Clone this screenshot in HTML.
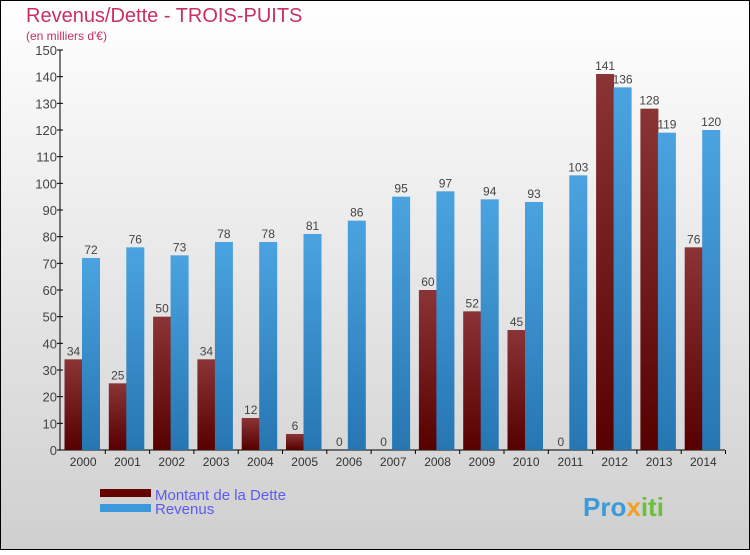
<!DOCTYPE html>
<html><head><meta charset="utf-8"><style>
html,body{margin:0;padding:0;}
body{width:750px;height:550px;overflow:hidden;font-family:"Liberation Sans",sans-serif;}
</style></head><body>
<svg id="chart" width="750" height="550" xmlns="http://www.w3.org/2000/svg">
<defs>
<linearGradient id="bg" x1="0" y1="0" x2="0" y2="1"><stop offset="0" stop-color="#ffffff"/><stop offset="1" stop-color="#cfcfcf"/></linearGradient>
<linearGradient id="gd" x1="0" y1="0" x2="0" y2="1"><stop offset="0" stop-color="#8a3436"/><stop offset="1" stop-color="#560000"/></linearGradient>
<linearGradient id="gr" x1="0" y1="0" x2="0" y2="1"><stop offset="0" stop-color="#4aa3e0"/><stop offset="1" stop-color="#2676b2"/></linearGradient>
</defs>
<rect x="0.5" y="0.5" width="749" height="549" fill="url(#bg)" stroke="#000" stroke-width="1"/>
<text x="26" y="22" font-size="20" fill="#c8305f">Revenus/Dette - TROIS-PUITS</text>
<text x="26" y="40" font-size="12" fill="#c8305f">(en milliers d'€)</text>
<g id="plot"></g>
<g>
<rect x="100" y="489" width="51" height="8" fill="#640000"/>
<text x="155" y="500" font-size="15" fill="#5b5bf0">Montant de la Dette</text>
<rect x="100" y="504" width="51" height="8" fill="#3a98db"/>
<text x="155" y="514" font-size="15" fill="#5b5bf0">Revenus</text>
</g>
<text x="583" y="516" font-size="26" font-weight="bold" fill="#3a9bd8">Pro<tspan fill="#f0a020">x</tspan><tspan fill="#6bbf3a">iti</tspan></text>
</svg>
<script>
const years=["2000","2001","2002","2003","2004","2005","2006","2007","2008","2009","2010","2011","2012","2013","2014"];
const dette=[34,25,50,34,12,6,0,0,60,52,45,0,141,128,76];
const revenus=[72,76,73,78,78,81,86,95,97,94,93,103,136,119,120];
const yTicks=[0,10,20,30,40,50,60,70,80,90,100,110,120,130,140,150];
const NS="http://www.w3.org/2000/svg";
const g=document.getElementById('plot');
const x0=61,gw=44.3,y0=450,yMax=150,yTop=50;
const Y=v=>y0-(v/yMax)*(y0-yTop);
const X=i=>x0+i*gw;
function el(t,a,txt){const e=document.createElementNS(NS,t);for(const k in a)e.setAttribute(k,a[k]);if(txt!==undefined)e.textContent=txt;g.appendChild(e);return e;}
let ax=el('line',{x1:60,y1:Y(yMax),x2:60,y2:y0,stroke:'#000'});


let bx=el('line',{x1:60,y1:y0,x2:725,y2:y0,stroke:'#000'});


yTicks.forEach(v=>{
  let t=el('line',{x1:57,y1:Y(v),x2:63,y2:Y(v),stroke:'#000'});
  
  
  let l=el('text',{x:57,y:Y(v)+5,'font-size':13,'text-anchor':'end',fill:'#444'},v);
  
  
});
years.forEach((yr,i)=>{
  const gx=X(i);
  let t=el('line',{x1:gx+gw,y1:y0,x2:gx+gw,y2:y0+4,stroke:'#000'});
  
  
  let l=el('text',{x:gx+gw/2,y:y0+16,'font-size':12,'text-anchor':'middle',fill:'#333'},yr);
  
  
  const dx=gx+3.5,rx=gx+21,bw=18;
  let b1=el('rect',{x:dx,y:Y(dette[i]),width:bw,height:y0-Y(dette[i]),fill:'url(#gd)'});
  
  
  let v1=el('text',{x:dx+bw/2,y:Y(dette[i])-4,'font-size':12,'text-anchor':'middle',fill:'#444'},dette[i]);
  
  
  let b2=el('rect',{x:rx,y:Y(revenus[i]),width:bw,height:y0-Y(revenus[i]),fill:'url(#gr)'});
  
  
  let v2=el('text',{x:rx+bw/2,y:Y(revenus[i])-4,'font-size':12,'text-anchor':'middle',fill:'#444'},revenus[i]);
  
  
});
</script>
</body></html>
